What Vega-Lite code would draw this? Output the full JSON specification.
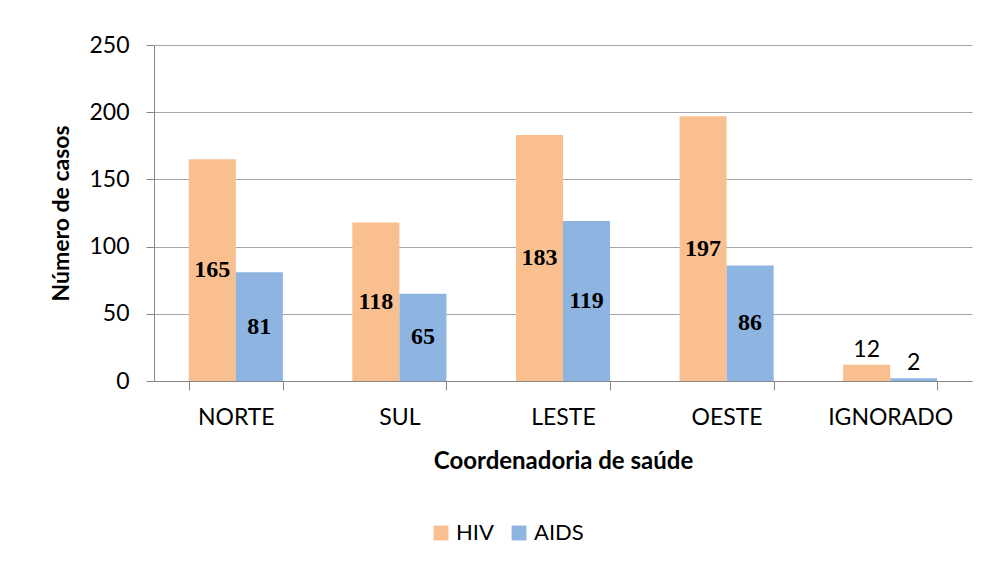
{
  "$schema": "https://vega.github.io/schema/vega-lite/v6.json",
  "autosize": "none",
  "width": 818,
  "height": 336,
  "padding": {"left": 154, "top": 45, "right": 14, "bottom": 186},
  "background": "#FFFFFF",
  "data": {
    "values": [
      {"Coordenadoria": "NORTE", "Tipo": "HIV", "Casos": 165},
      {"Coordenadoria": "NORTE", "Tipo": "AIDS", "Casos": 81},
      {"Coordenadoria": "SUL", "Tipo": "HIV", "Casos": 118},
      {"Coordenadoria": "SUL", "Tipo": "AIDS", "Casos": 65},
      {"Coordenadoria": "LESTE", "Tipo": "HIV", "Casos": 183},
      {"Coordenadoria": "LESTE", "Tipo": "AIDS", "Casos": 119},
      {"Coordenadoria": "OESTE", "Tipo": "HIV", "Casos": 197},
      {"Coordenadoria": "OESTE", "Tipo": "AIDS", "Casos": 86},
      {"Coordenadoria": "IGNORADO", "Tipo": "HIV", "Casos": 12},
      {"Coordenadoria": "IGNORADO", "Tipo": "AIDS", "Casos": 2}
    ]
  },
  "encoding": {
    "x": {
      "field": "Coordenadoria",
      "type": "nominal",
      "sort": ["NORTE", "SUL", "LESTE", "OESTE", "IGNORADO"],
      "scale": {"paddingInner": 0.425, "paddingOuter": 0.2125},
      "axis": {
        "title": "Coordenadoria de saúde",
        "labelAngle": 0,
        "labelFont": "Lato",
        "labelFontSize": 23,
        "labelColor": "#000000",
        "labelPadding": 16,
        "titleFont": "Lato",
        "titleFontSize": 24,
        "titleFontWeight": "bold",
        "titleColor": "#000000",
        "titlePadding": 20,
        "tickBand": "extent",
        "tickSize": 9,
        "tickColor": "#868686",
        "domainColor": "#868686",
        "grid": false
      }
    },
    "xOffset": {"field": "Tipo", "type": "nominal", "sort": ["HIV", "AIDS"]}
  },
  "layer": [
    {
      "mark": {"type": "bar"},
      "encoding": {
        "y": {
          "field": "Casos",
          "type": "quantitative",
          "scale": {"domain": [0, 250], "nice": false},
          "axis": {
            "title": "Número de casos",
            "values": [0, 50, 100, 150, 200, 250],
            "labelFont": "Lato",
            "labelFontSize": 23,
            "labelColor": "#000000",
            "labelPadding": 17,
            "titleFont": "Lato",
            "titleFontSize": 23,
            "titleFontWeight": "bold",
            "titleColor": "#000000",
            "titlePadding": 15,
            "tickSize": 8,
            "tickColor": "#868686",
            "domainColor": "#868686",
            "gridColor": "#A6A6A6",
            "gridWidth": 1
          }
        },
        "color": {
          "field": "Tipo",
          "type": "nominal",
          "scale": {"domain": ["HIV", "AIDS"], "range": ["#F9BF8F", "#8EB4E2"]},
          "legend": {
            "title": null,
            "orient": "none",
            "legendX": 276,
            "legendY": 477,
            "direction": "horizontal",
            "symbolType": "square",
            "symbolSize": 220,
            "symbolStrokeWidth": 0,
            "labelFont": "Lato",
            "labelFontSize": 22,
            "labelColor": "#000000",
            "columnPadding": 14
          }
        }
      }
    },
    {
      "transform": [{"filter": "datum.Coordenadoria != 'IGNORADO'"}],
      "mark": {"type": "text", "font": "Liberation Serif", "fontWeight": "bold", "fontSize": 24, "baseline": "middle", "color": "#000000"},
      "encoding": {
        "y": {"field": "Casos", "type": "quantitative", "scale": {"domain": [0, 500], "nice": false}, "axis": null},
        "text": {"field": "Casos", "type": "quantitative"}
      }
    },
    {
      "transform": [{"filter": "datum.Coordenadoria == 'IGNORADO'"}],
      "mark": {"type": "text", "font": "Lato", "fontSize": 23, "baseline": "bottom", "dy": -3, "color": "#000000"},
      "encoding": {
        "y": {"field": "Casos", "type": "quantitative", "scale": {"domain": [0, 250], "nice": false}, "axis": null},
        "text": {"field": "Casos", "type": "quantitative"}
      }
    }
  ],
  "resolve": {"scale": {"y": "independent"}},
  "config": {"view": {"stroke": null}}
}
